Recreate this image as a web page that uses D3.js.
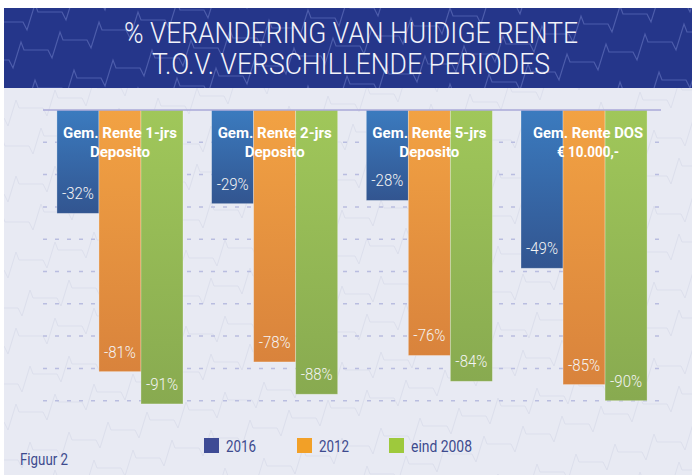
<!DOCTYPE html>
<html><head><meta charset="utf-8">
<script src="https://cdn.jsdelivr.net/npm/d3@7"></script>
<style>
html,body{margin:0;padding:0;background:#fff;}
svg{display:block;}
</style></head>
<body>
<script>
// ---- data ----
const categories = [
  ["Gem. Rente 1-jrs", "Deposito"],
  ["Gem. Rente 2-jrs", "Deposito"],
  ["Gem. Rente 5-jrs", "Deposito"],
  ["Gem. Rente DOS", "€ 10.000,-"]
];
const seriesNames = ["2016", "2012", "eind 2008"];
const values2016 = [-32, -29, -28, -49];
const values2012 = [-81, -78, -76, -85];
const valuesEind2008 = [-91, -88, -84, -90];
const gridTicks = [-10, -20, -30, -40, -50, -60, -70, -80, -90];
const titleLines = ["% VERANDERING VAN HUIDIGE RENTE", "T.O.V. VERSCHILLENDE PERIODES"];
const footnote = "Figuur 2";

const W = 692, H = 475;
const font = "Roboto,'Liberation Sans',sans-serif";

const svg = d3.select("body").append("svg").attr("width", W).attr("height", H);
const defs = svg.append("defs");

const grads = [
  {id: "gBlue", top: "#3b7bbf", bot: "#325590"},
  {id: "gOrange", top: "#f2a243", bot: "#d9833c"},
  {id: "gGreen", top: "#a0c75a", bot: "#88aa50"}
];
grads.forEach(g => {
  const lg = defs.append("linearGradient").attr("id", g.id).attr("x1", 0).attr("y1", 0).attr("x2", 0).attr("y2", 1);
  lg.append("stop").attr("offset", "0%").attr("stop-color", g.top);
  lg.append("stop").attr("offset", "100%").attr("stop-color", g.bot);
});
defs.append("clipPath").attr("id", "clipHead").append("rect").attr("x", 4).attr("y", 8).attr("width", W - 4).attr("height", 80);
defs.append("clipPath").attr("id", "clipBody").append("rect").attr("x", 4).attr("y", 88).attr("width", W - 4).attr("height", H - 88);

// backgrounds
svg.append("rect").attr("x", 4).attr("y", 88).attr("width", W - 4).attr("height", H - 88).attr("fill", "#e8eaf3");
svg.append("rect").attr("x", 4).attr("y", 8).attr("width", W - 4).attr("height", 80).attr("fill", "#25368a");

// decorative staircase pattern
function stair(x0, y0, cycles) {
  const pts = [[x0, y0]];
  let x = x0, y = y0;
  for (let i = 0; i < cycles; i++) {
    pts.push([x + 24, y]);
    pts.push([x + 28, y + 8]);
    pts.push([x + 36, y - 18]);
    pts.push([x + 39, y - 10]);
    x += 39; y -= 10;
  }
  return pts;
}
const lineGen = d3.line();
function drawPattern(clip, color, offX, offY, sw) {
  const g = svg.append("g").attr("clip-path", `url(#${clip})`);
  for (let r = -12; r < 22; r++) {
    g.append("path").attr("d", lineGen(stair(-40 + offX + (r % 2) * 14, r * 38 + offY + 260, 22)))
      .attr("fill", "none").attr("stroke", color).attr("stroke-width", sw);
  }
}
drawPattern("clipHead", "#4d5dab", 0, 0, 1.2);
drawPattern("clipBody", "#dcdfec", 20, 10, 1);

// title
const title = svg.append("g");
const titleW = [454, 398];
titleLines.forEach((t, i) => {
  title.append("text").attr("x", 351).attr("y", 43 + i * 31)
    .attr("text-anchor", "middle").attr("fill", "#f2f3fa")
    .attr("font-family", font).attr("font-size", 29).attr("font-weight", 300)
    .attr("textLength", titleW[i]).attr("lengthAdjust", "spacingAndGlyphs")
    .text(t);
});

// scales
const x0 = d3.scaleBand().domain(d3.range(categories.length)).range([43, 661]).paddingInner(0.185).paddingOuter(0.09);
const x1 = d3.scaleBand().domain(seriesNames).range([0, x0.bandwidth()]).padding(0);
const y = d3.scaleLinear().domain([-100, 0]).range([433, 110]);

// gridlines
const grid = svg.append("g");
grid.selectAll("line").data(gridTicks).join("line")
  .attr("x1", 43).attr("x2", 661)
  .attr("y1", d => y(d)).attr("y2", d => y(d))
  .attr("stroke", "#b9bde0").attr("stroke-width", 1.5).attr("stroke-dasharray", "4 8");

// bars
const seriesVals = [values2016, values2012, valuesEind2008];
const fills = ["url(#gBlue)", "url(#gOrange)", "url(#gGreen)"];
const bars = svg.append("g");
seriesNames.forEach((s, si) => {
  bars.selectAll(".b" + si).data(seriesVals[si]).join("rect")
    .attr("x", (d, i) => x0(i) + x1(s))
    .attr("y", y(0))
    .attr("width", x1.bandwidth())
    .attr("height", d => y(d) - y(0))
    .attr("fill", fills[si])
    .attr("stroke", "rgba(255,255,255,0.35)").attr("stroke-width", 0.8);
});

// baseline
svg.append("line").attr("x1", 43).attr("x2", 661).attr("y1", y(0)).attr("y2", y(0))
  .attr("stroke", "#aaa9d8").attr("stroke-width", 1.5);

// value labels
seriesNames.forEach((s, si) => {
  bars.selectAll(".v" + si).data(seriesVals[si]).join("text")
    .attr("x", (d, i) => x0(i) + x1(s) + x1.bandwidth() / 2)
    .attr("y", d => y(d) - 14)
    .attr("text-anchor", "middle").attr("fill", "#f4f4f4")
    .attr("font-family", font).attr("font-size", 17).attr("font-weight", 300)
    .attr("textLength", 32).attr("lengthAdjust", "spacingAndGlyphs")
    .text(d => d + "%");
});

// category labels
const catW = [[114, 60], [114, 60], [114, 60], [110, 62]];
categories.forEach((c, i) => {
  c.forEach((line, li) => {
    svg.append("text")
      .attr("x", x0(i) + x0.bandwidth() / 2 + (i === 3 ? 4 : 0))
      .attr("y", 138 + li * 19)
      .attr("text-anchor", "middle").attr("fill", "#ffffff")
      .attr("font-family", font).attr("font-size", 15).attr("font-weight", 700)
      .attr("textLength", catW[i][li]).attr("lengthAdjust", "spacingAndGlyphs")
      .text(line);
  });
});

// legend
const legColors = ["#3e4b95", "#f2a027", "#9ec93c"];
const legX = [204, 297, 389];
const legTW = [30, 30, 61];
const leg = svg.append("g");
seriesNames.forEach((s, i) => {
  leg.append("rect").attr("x", legX[i]).attr("y", 438).attr("width", 15).attr("height", 15).attr("fill", legColors[i]);
  leg.append("text").attr("x", legX[i] + 22).attr("y", 452)
    .attr("fill", "#3d4a8e").attr("font-family", font).attr("font-size", 16)
    .attr("textLength", legTW[i]).attr("lengthAdjust", "spacingAndGlyphs")
    .text(s);
});

svg.append("text").attr("x", 20).attr("y", 465).attr("fill", "#3d4a8e")
  .attr("font-family", font).attr("font-size", 17)
  .attr("textLength", 48).attr("lengthAdjust", "spacingAndGlyphs").text(footnote);
</script>
</body></html>
